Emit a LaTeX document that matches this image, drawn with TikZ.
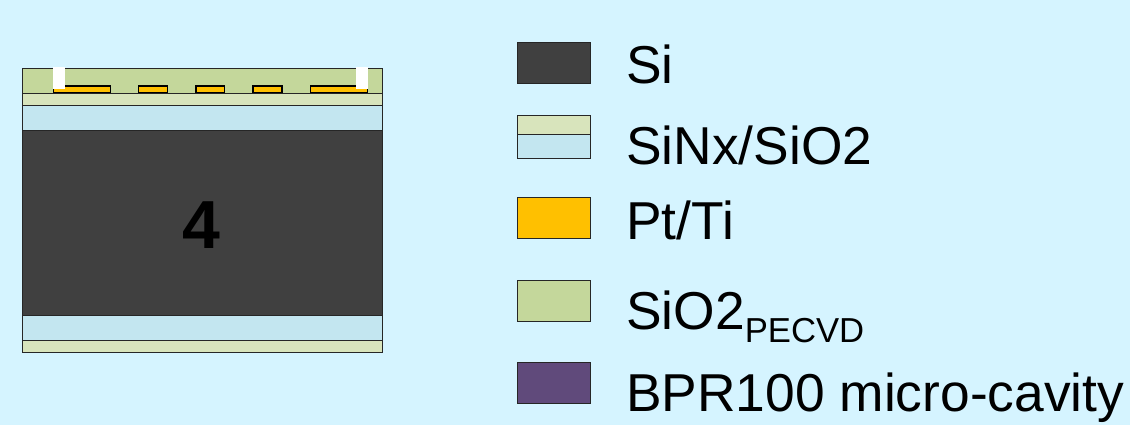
\documentclass[tikz,border=0pt]{standalone}
\usepackage{fontspec}
\setmainfont{Liberation Sans}
\definecolor{bgc}{HTML}{D5F4FF}
\definecolor{pecvd}{HTML}{C4D79B}
\definecolor{sinx}{HTML}{D8E4BC}
\definecolor{oxide}{HTML}{C3E6F0}
\definecolor{silicon}{HTML}{404040}
\definecolor{pt}{HTML}{FFC000}
\definecolor{bpr}{HTML}{604A7B}
\tikzset{
  layer/.style={draw=black!85,line width=0.7pt},
  pad/.style={draw=black,line width=0.9pt,fill=pt},
  gap/.style={fill=white,draw=none},
  lab/.style={anchor=base west,inner sep=0pt,font=\fontsize{40}{44}\selectfont},
  bignum/.style={anchor=center,inner sep=0pt,font=\fontsize{51}{58}\selectfont\bfseries}
}
\begin{document}
\begin{tikzpicture}[x=0.75pt,y=-0.75pt]
\fill[bgc] (0,0) rectangle (1130,425);
\useasboundingbox (0,0) rectangle (1130,425);
% stack
\draw[layer,fill=pecvd] (22,68) rectangle (382,93);
\draw[layer,fill=sinx] (22,93) rectangle (382,105);
\draw[layer,fill=oxide] (22,105) rectangle (382,130);
\draw[layer,fill=silicon] (22,130) rectangle (382,315);
\draw[layer,fill=oxide] (22,315) rectangle (382,340);
\draw[layer,fill=sinx] (22,340) rectangle (382,352);
\draw[pad] (53.5,86) rectangle (110.5,92.5);
\draw[pad] (138.5,86) rectangle (167.5,92.5);
\draw[pad] (196,86) rectangle (224.5,92.5);
\draw[pad] (253,86) rectangle (282,92.5);
\draw[pad] (310.5,86) rectangle (367.5,92.5);
\fill[gap] (53,67) rectangle (65,89);
\fill[gap] (356,67) rectangle (368,89);
\node[bignum,text=black] (num) at (201,225) {4};
% legend
\draw[layer,fill=silicon] (517,42.5) rectangle (590.5,83.5);
\draw[layer,fill=sinx] (517,115) rectangle (590.5,134);
\draw[layer,fill=oxide] (517,134) rectangle (590.5,158.5);
\draw[layer,fill=pt] (517,197.5) rectangle (590.5,238.5);
\draw[layer,fill=pecvd] (517,280) rectangle (590.5,321);
\draw[layer,fill=bpr] (517,362.5) rectangle (590.5,403.5);
\node[lab] (l1) at (626,83) {Si};
\node[lab] (l2) at (626,164) {SiNx/SiO2};
\node[lab] (l3) at (626,239) {Pt/Ti};
\node[lab] (l4) at (626,329) {SiO2\raisebox{-13\dimexpr 0.75pt\relax}{\fontsize{26}{28}\selectfont PECVD}};
\node[lab] (l5) at (626,411) {BPR100 micro-cavity};
\end{tikzpicture}
\end{document}
